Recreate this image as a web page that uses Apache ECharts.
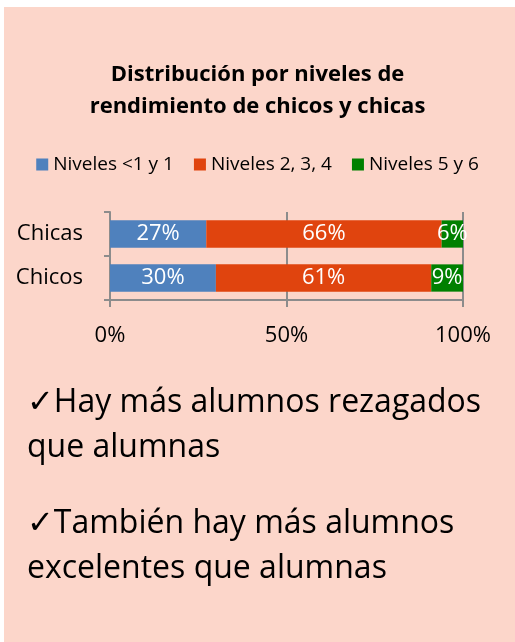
<!DOCTYPE html>
<html>
<head>
<meta charset="utf-8">
<script src="https://cdn.jsdelivr.net/npm/echarts@6/dist/echarts.min.js"></script>
<style>
  html, body { margin: 0; padding: 0; background: #ffffff; }
  #js-echarts { width: 515px; height: 642px; }
</style>
</head>
<body>
<div id="js-echarts"></div>
<script>
const categories = ['Chicas', 'Chicos'];
const seriesNames = ['Niveles <1 y 1', 'Niveles 2, 3, 4', 'Niveles 5 y 6'];
const bajo = [27, 30];
const medio = [66, 61];
const alto = [6, 9];
const xTicks = [0, 50, 100];
const notes = [
  '\u2713Hay más alumnos rezagados',
  'que alumnas',
  '\u2713También hay más alumnos',
  'excelentes que alumnas'
];

const chartDom = document.getElementById('js-echarts');
if (chartDom) {
  const chart = echarts.init(chartDom);
  const theme = {
    blue: '#4F81BD',
    red: '#E0440E',
    green: '#008000',
    axis: '#8C8C8C',
    pink: '#FCD6CA',
    text: '#000000'
  };
  const font = 'Open Sans';

  // 100% stacked: each row is scaled to its own total, the label shows the rounded value
  const rows = categories.map((c, i) => bajo[i] + medio[i] + alto[i]);
  const share = (arr) => arr.map((v, i) => ({ value: v * 100 / rows[i], raw: v }));

  const makeSeries = (name, arr, color) => ({
    name: name,
    type: 'bar',
    stack: 'total',
    barWidth: '62%',
    data: share(arr),
    itemStyle: { color: color },
    label: {
      show: true,
      position: 'inside',
      color: '#ffffff',
      fontFamily: font,
      fontSize: 22,
      formatter: (p) => p.data.raw + '%'
    }
  });

  const option = {
    backgroundColor: '#ffffff',
    animation: false,
    graphic: [
      {
        type: 'rect',
        shape: { x: 4, y: 7, width: 520, height: 640 },
        style: { fill: theme.pink },
        z: -10
      }
    ].concat(notes.map((t, i) => ({
      type: 'text',
      left: 27,
      top: [387, 432, 508, 553][i],
      style: {
        text: t,
        fill: theme.text,
        font: '32px "' + font + '", "DejaVu Sans"'
      }
    }))),
    title: {
      text: 'Distribución por niveles de\nrendimiento de chicos y chicas',
      left: 'center',
      top: 54,
      textStyle: {
        fontFamily: font,
        fontWeight: 'bold',
        fontSize: 22,
        lineHeight: 32,
        color: theme.text
      }
    },
    legend: {
      top: 150,
      left: 'center',
      itemWidth: 12,
      itemHeight: 12,
      itemGap: 20,
      icon: 'rect',
      textStyle: { fontFamily: font, fontSize: 19, color: theme.text },
      data: seriesNames
    },
    grid: { left: 110, right: 52, top: 212, bottom: 342, containLabel: false },
    xAxis: {
      type: 'value',
      min: 0,
      max: 100,
      interval: 50,
      axisLine: { show: true, lineStyle: { color: theme.axis, width: 2 } },
      axisTick: { show: true, length: 7, lineStyle: { color: theme.axis, width: 2 } },
      splitLine: { show: true, lineStyle: { color: theme.axis, width: 2 } },
      axisLabel: {
        margin: 25,
        fontFamily: font,
        fontSize: 22,
        color: theme.text,
        formatter: (v) => (xTicks.indexOf(v) >= 0 ? v + '%' : '')
      }
    },
    yAxis: {
      type: 'category',
      inverse: true,
      data: categories,
      axisLine: { show: true, lineStyle: { color: theme.axis, width: 2 } },
      axisTick: { show: true, length: 6, lineStyle: { color: theme.axis, width: 2 } },
      axisLabel: {
        margin: 27,
        fontFamily: font,
        fontSize: 22,
        color: theme.text
      }
    },
    series: [
      makeSeries(seriesNames[0], bajo, theme.blue),
      makeSeries(seriesNames[1], medio, theme.red),
      makeSeries(seriesNames[2], alto, theme.green)
    ]
  };

  chart.setOption(option);
}
</script>
</body>
</html>
